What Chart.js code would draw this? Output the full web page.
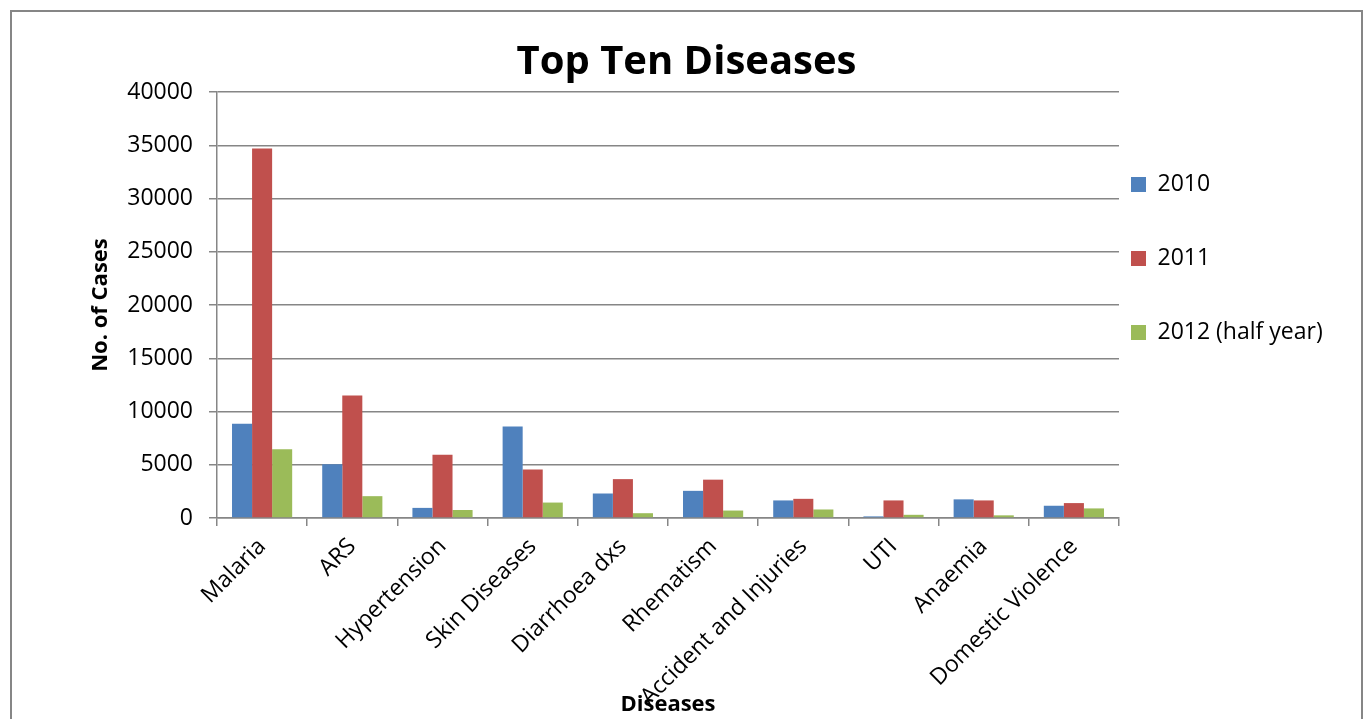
<!DOCTYPE html>
<html>
<head>
<meta charset="utf-8">
<title>Top Ten Diseases</title>
<script src="https://cdn.jsdelivr.net/npm/chart.js@4"></script>
<style>
  html, body { margin: 0; padding: 0; background: #fff; overflow: hidden; }
  .frame { position: absolute; left: 10px; top: 10px; width: 1349px; height: 760px; border: 2px solid #868686; background: #fff; }
</style>
</head>
<body>
<div class="frame">
  <canvas id="myChart" width="1349" height="707"></canvas>
</div>
<script>
// categories (x axis)
const diseases = ['Malaria', 'ARS', 'Hypertension', 'Skin Diseases', 'Diarrhoea dxs',
                  'Rhematism', 'Accident and Injuries', 'UTI', 'Anaemia', 'Domestic Violence'];

// number of cases per year
const cases2010 = [8850, 5050, 950, 8600, 2300, 2550, 1650, 150, 1750, 1150];
const cases2011 = [34700, 11500, 5950, 4550, 3650, 3600, 1800, 1650, 1650, 1400];
const cases2012 = [6450, 2050, 750, 1450, 450, 700, 800, 300, 250, 900];

// y axis ticks
const yMin = 0;
const yMax = 40000;
const yStep = 5000;

const gridColor = '#868686';

Chart.defaults.font.family = "'Open Sans', sans-serif";
Chart.defaults.color = '#000';

// move the legend so its items sit like in the original (right of plot, near top)
const legendPlace = {
  id: 'legendPlace',
  afterLayout(chart) {
    const lg = chart.legend;
    const pad = chart.options.plugins.legend.labels.padding;
    const w = lg.width, h = lg.height;
    lg.left = chart.chartArea.right + 12 - pad;
    lg.right = lg.left + w;
    lg.top = chart.chartArea.top + 81 - pad;
    lg.bottom = lg.top + h;
  }
};

const ctx = document.getElementById('myChart');

new Chart(ctx, {
  type: 'bar',
  data: {
    labels: diseases,
    datasets: [
      { label: '2010', data: cases2010, backgroundColor: '#4F81BD' },
      { label: '2011', data: cases2011, backgroundColor: '#C0504D' },
      { label: '2012 (half year)', data: cases2012, backgroundColor: '#9BBB59' }
    ]
  },
  options: {
    responsive: false,
    animation: false,
    categoryPercentage: 0.667,
    barPercentage: 1.0,
    layout: { padding: { left: 0, right: 0, top: 0, bottom: 0 } },
    plugins: {
      title: {
        display: true,
        text: 'Top Ten Diseases',
        font: { size: 40, weight: 'bold' },
        padding: { top: 27, bottom: 5 }
      },
      legend: {
        position: 'right',
        align: 'start',
        maxWidth: 242,
        labels: {
          boxWidth: 15,
          boxHeight: 15,
          padding: 51,
          font: { size: 23 }
        }
      },
      tooltip: { enabled: false }
    },
    scales: {
      x: {
        afterFit: (scale) => { scale.height = 201; },
        border: { display: true, color: gridColor, width: 1.5 },
        grid: { display: true, drawOnChartArea: false, drawTicks: true, tickLength: 8, color: gridColor, lineWidth: 1.5 },
        ticks: { minRotation: 45, maxRotation: 45, autoSkip: false, padding: 7, font: { size: 23 } },
        title: { display: true, text: 'Diseases', font: { size: 22, weight: 'bold' }, padding: { top: 4, bottom: 1 } }
      },
      y: {
        min: yMin,
        max: yMax,
        afterFit: (scale) => { scale.width = 205; },
        border: { display: true, color: gridColor, width: 1.5 },
        grid: { color: gridColor, lineWidth: 1.5, tickLength: 8 },
        ticks: { stepSize: yStep, padding: 16, font: { size: 23 }, callback: (v) => String(v) },
        title: { display: true, text: 'No. of Cases', font: { size: 22, weight: 'bold' }, padding: { top: 76, bottom: 4 } }
      }
    }
  },
  plugins: [legendPlace]
});
</script>
</body>
</html>
